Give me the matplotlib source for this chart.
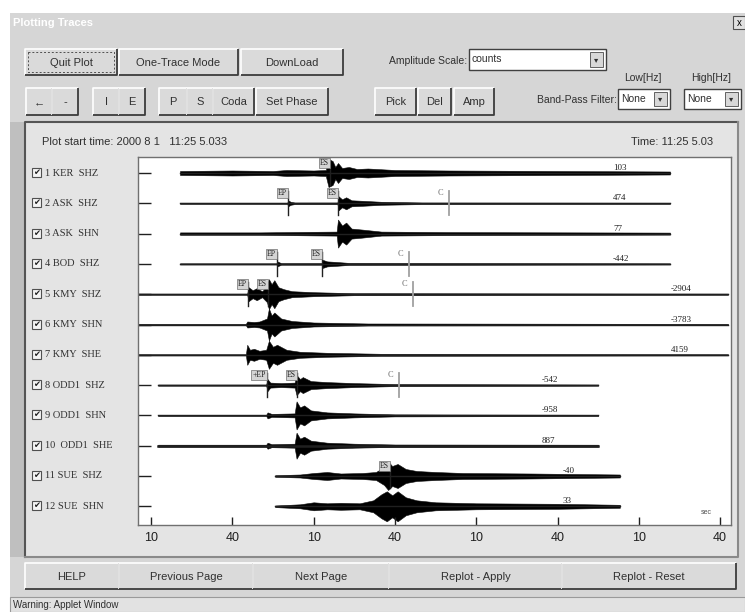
import numpy as np
import matplotlib.pyplot as plt
from matplotlib.patches import Rectangle
from matplotlib import transforms
from matplotlib.colors import LinearSegmentedColormap

# ---- values ----
station_labels = ["1 KER  SHZ", "2 ASK  SHZ", "3 ASK  SHN", "4 BOD  SHZ",
                  "5 KMY  SHZ", "6 KMY  SHN", "7 KMY  SHE", "8 ODD1  SHZ",
                  "9 ODD1  SHN", "10  ODD1  SHE", "11 SUE  SHZ", "12 SUE  SHN"]
amp_labels = ["103", "474", "77", "-442", "-2904", "-3783", "4159",
              "-542", "-958", "887", "-40", "33"]
trace_start = [20.7, 20.7, 20.7, 20.7, 5.2, 5.2, 5.2, 12.6, 12.6, 12.6, 55.8, 55.8]
trace_end = [201.5, 201.5, 201.5, 201.5, 222.9, 222.9, 222.9, 175.0, 175.0, 175.0, 183.0, 183.0]

# envelope knots (time in s, half amplitude) for every trace
env_ker_shz = [(20.7, 2), (40, 2.5), (55, 2), (60, 3), (70, 2.5), (74.5, 3), (75.5, 14), (77, 12),
               (78, 6), (79, 10), (80.5, 5), (83, 6), (86, 4), (90, 4.5), (100, 3), (120, 2.5),
               (160, 2), (201.5, 1.5)]
env_ask_shz = [(20.7, 0.6), (60.3, 0.6), (60.6, 3), (61.5, 1.5), (63, 0.8), (78.8, 0.8), (79.2, 7),
               (80.5, 4), (82, 6), (84, 3), (88, 2.5), (95, 1.5), (110, 0.8), (201.5, 0.6)]
env_ask_shn = [(20.7, 1.2), (50, 1.2), (70, 1.8), (78.5, 2), (79, 14), (80.5, 8), (82, 11), (84, 5),
               (88, 4), (95, 2), (120, 1.5), (201.5, 1)]
env_bod_shz = [(20.7, 0.6), (56.3, 0.6), (56.6, 2.5), (58, 0.8), (73, 0.8), (73.4, 4), (75, 2.5),
               (78, 2), (83, 1), (201.5, 0.6)]
env_kmy_shz = [(5.2, 0.6), (45.5, 0.6), (46, 7), (47.5, 4), (49, 6), (51, 3), (52.8, 8), (53.5, 15),
               (54.5, 10), (55.5, 14), (57, 7), (59, 5), (62, 3), (70, 2), (85, 1), (222.9, 0.6)]
env_kmy_shn = [(5.2, 0.6), (45, 0.6), (45.5, 3), (48, 2.5), (50, 3), (52.8, 6), (53.5, 16), (54.5, 9),
               (55.5, 12), (58, 6), (62, 3.5), (70, 2), (90, 1), (222.9, 0.6)]
env_kmy_she = [(5.2, 0.6), (45, 0.6), (45.5, 10), (46.5, 5), (48, 6), (50, 4), (52.5, 5), (53.5, 14),
               (55, 8), (56.5, 10), (60, 5), (65, 3), (75, 2), (95, 1), (222.9, 0.6)]
env_odd_shz = [(12.6, 0.6), (52.5, 0.6), (53, 6), (54, 2.5), (58, 2), (63, 2.5), (63.7, 10), (65, 6),
               (66, 8), (69, 4), (75, 3), (85, 2), (100, 1), (175, 0.6)]
env_odd_shn = [(12.6, 0.6), (52.5, 0.6), (53, 3), (54.5, 1.5), (63, 2), (63.7, 14), (65, 8), (66.5, 10),
               (69, 5), (75, 3), (85, 2), (100, 1), (175, 0.6)]
env_odd_she = [(12.6, 1.0), (52.5, 1.0), (53, 3), (54.5, 1.5), (63, 2), (63.7, 13), (65, 7), (66.5, 9),
               (69, 5), (75, 3), (85, 2), (100, 1.2), (175, 1.0)]
env_sue_shz = [(55.8, 0.8), (65, 1.5), (70, 3), (75, 4), (80, 2.5), (88, 3), (93, 4), (96, 9), (97.5, 14),
               (99, 10), (101, 12), (104, 7), (108, 5), (115, 4), (125, 3), (150, 2.5), (183, 1.5)]
env_sue_shn = [(55.8, 0.8), (65, 2), (70, 4), (75, 3), (80, 3.5), (87, 3), (92, 6), (95, 12), (97, 15),
               (99, 11), (101, 15), (104, 9), (108, 6), (115, 4), (130, 3), (160, 2.5), (183, 1.5)]
envelopes = [env_ker_shz, env_ask_shz, env_ask_shn, env_bod_shz, env_kmy_shz, env_kmy_shn,
             env_kmy_she, env_odd_shz, env_odd_shn, env_odd_she, env_sue_shz, env_sue_shn]

# phase picks
pick_trace = [0, 1, 1, 3, 3, 4, 4, 7, 7, 10]
pick_time = [76.1, 60.6, 79.0, 56.5, 73.1, 45.8, 53.2, 52.8, 63.9, 98.2]
pick_label = ["ES", "EP", "ES", "EP", "ES", "EP", "ES", "+EP", "ES", "ES"]
coda_trace = [1, 3, 4, 7]
coda_time = [120.0, 105.2, 106.7, 101.5]

tick_times = [10, 40, 70, 100, 130, 160, 190, 220]
tick_labels = ["10", "40", "10", "40", "10", "40", "10", "40"]

GUI = "Liberation Sans"
SERIF = "Liberation Serif"
TXT = "#303030"

fig = plt.figure(figsize=(7.45, 6.12), dpi=100)
fig.patch.set_facecolor("white")

# background axes in screen pixels
bg = fig.add_axes([0, 0, 1, 1])
bg.axis("off")

# window body
bg.add_patch(Rectangle((10, 13), 735, 599, facecolor="#d6d6d6", edgecolor="none"))
# title bar gradient
grey_cmap = LinearSegmentedColormap.from_list("tb", ["#080808", "#3a3a3a", "#9a9a9a", "#cfcfcf"])
bg.imshow(np.linspace(0, 1, 256)[None, :], extent=[10, 745, 33, 13], cmap=grey_cmap, aspect="auto")
bg.text(13, 23.5, "Plotting Traces", color="white", fontsize=8, fontweight="bold", family=GUI, va="center")
bg.add_patch(Rectangle((733, 16), 12, 13, facecolor="#e0e0e0", edgecolor="#505050", lw=0.8))
bg.text(739, 22.5, "x", fontsize=7, ha="center", va="center", color="black", family=GUI)


def button(x0, y0, x1, y1, label, fs=8, focus=False):
    bg.add_patch(Rectangle((x0, y0), x1 - x0, y1 - y0, facecolor="#dadada", edgecolor="none"))
    bg.plot([x0, x0, x1], [y1, y0, y0], color="white", lw=1.2, solid_capstyle="butt")
    bg.plot([x0, x1, x1], [y1, y1, y0], color="#3c3c3c", lw=1.3, solid_capstyle="butt")
    bg.text((x0 + x1) / 2, (y0 + y1) / 2 + 0.5, label, ha="center", va="center",
            fontsize=fs, family=GUI, color=TXT)
    if focus:
        bg.add_patch(Rectangle((x0 + 3, y0 + 3), x1 - x0 - 6, y1 - y0 - 6, fill=False,
                               edgecolor="#505050", lw=0.7, ls=(0, (2, 2))))


def combo(x0, y0, x1, y1, label):
    bg.add_patch(Rectangle((x0, y0), x1 - x0, y1 - y0, facecolor="white", edgecolor="#404040", lw=1))
    bg.add_patch(Rectangle((x1 - 16, y0 + 3), 13, y1 - y0 - 6, facecolor="#d8d8d8", edgecolor="#606060", lw=0.7))
    bg.text(x1 - 9.5, (y0 + y1) / 2, "\u25be", ha="center", va="center", fontsize=6, color=TXT, family="DejaVu Sans")
    bg.text(x0 + 3, (y0 + y1) / 2, label, ha="left", va="center", fontsize=7.5, family=GUI, color=TXT)


# top rows of controls
button(25, 49, 117, 75, "Quit Plot", focus=True)
button(119, 49, 238, 75, "One-Trace Mode")
button(241, 49, 343, 75, "DownLoad")
bg.text(467, 61, "Amplitude Scale:", ha="right", va="center", fontsize=7.5, family=GUI, color=TXT)
combo(469, 49, 606, 70, "counts")
bg.text(643, 78, "Low[Hz]", ha="center", va="center", fontsize=7.5, family=GUI, color=TXT)
bg.text(711, 78, "High[Hz]", ha="center", va="center", fontsize=7.5, family=GUI, color=TXT)

for lab, x0, x1 in [("\u2190", 26, 52), ("-", 52, 78), ("I", 93, 119), ("E", 119, 145),
                    ("P", 159, 187), ("S", 187, 213), ("Coda", 213, 254), ("Set Phase", 256, 328),
                    ("Pick", 375, 416), ("Del", 418, 451), ("Amp", 454, 494)]:
    button(x0, 88, x1, 115, lab)
bg.text(617, 100, "Band-Pass Filter:", ha="right", va="center", fontsize=7.5, family=GUI, color=TXT)
combo(618, 89, 670, 109, "None")
combo(684, 89, 741, 109, "None")

# plotting panel
bg.add_patch(Rectangle((10, 122), 15, 435, facecolor="#bfbfbf", edgecolor="none"))
bg.add_patch(Rectangle((25, 122), 713, 435, facecolor="#e4e4e4", edgecolor="none"))
bg.plot([25, 25, 738], [557, 122, 122], color="#555555", lw=1.5)
bg.plot([25, 738, 738], [557, 557, 122], color="#8a8a8a", lw=1.5)
bg.text(42, 142, "Plot start time: 2000 8 1   11:25 5.033", fontsize=8, family=GUI, color=TXT, va="center")
bg.text(713, 142, "Time: 11:25 5.03", fontsize=8, family=GUI, color=TXT, va="center", ha="right")

# bottom buttons and status bar
for lab, x0, x1 in [("HELP", 25, 119), ("Previous Page", 119, 253), ("Next Page", 253, 389),
                    ("Replot - Apply", 389, 562), ("Replot - Reset", 562, 736)]:
    button(x0, 563, x1, 589, lab)
bg.add_patch(Rectangle((10, 597), 735, 15, facecolor="#e2e2e2", edgecolor="#9a9a9a", lw=0.8))
bg.text(13, 605, "Warning: Applet Window", fontsize=7, family=GUI, color=TXT, va="center")

bg.set_xlim(0, 745)
bg.set_ylim(612, 0)

# ---- trace axes ----
ax = fig.add_axes([138 / 745, (612 - 525) / 612, (731 - 138) / 745, (525 - 157) / 612])
ax.set_facecolor("white")
spacing = 30.3
offsets = np.arange(len(station_labels)) * spacing
ax.set_xlim(5.2, 224)
ax.set_ylim(352, -16)

for i, env in enumerate(envelopes):
    t = np.array([p[0] for p in env])
    a = np.array([p[1] for p in env])
    off = offsets[i]
    lw = 1.8 if i == 9 else 1.0
    ax.plot([trace_start[i], trace_end[i]], [off, off], color="#202020", lw=lw)
    ax.fill_between(t, off - a, off + a, color="black", lw=0.4, edgecolor="#111111")
    ax.text(trace_end[i] - 21, off - 5, amp_labels[i], fontsize=6.5, family=SERIF,
            color="#202020", va="center", ha="left")

for tr, tm, lab in zip(pick_trace, pick_time, pick_label):
    off = offsets[tr]
    ax.plot([tm, tm], [off - 12, off + 12], color="#202020", lw=1)
    ax.text(tm - 0.5, off - 10, lab, fontsize=5.5, family=SERIF, ha="right", va="center", color="#202020",
            bbox=dict(boxstyle="square,pad=0.12", fc="#d4d4d4", ec="#707070", lw=0.5))

for tr, tm in zip(coda_trace, coda_time):
    off = offsets[tr]
    ax.plot([tm, tm], [off - 12, off + 12], color="#a0a0a0", lw=1.3)
    ax.text(tm - 2, off - 10, "C", fontsize=6, family=SERIF, ha="right", va="center", color="#707070")

ax.text(215, 339, "sec", fontsize=5, family=GUI, color="#505050", ha="center", va="center")

ax.set_xticks(tick_times, tick_labels)
ax.set_yticks(offsets, [])
ax.tick_params(axis="x", direction="in", length=6, width=1, pad=5, labelsize=9, colors="#202020")
ax.tick_params(axis="y", direction="in", length=9, width=1, colors="#202020")
for lab in ax.get_xticklabels():
    lab.set_family(GUI)
for sp in ax.spines.values():
    sp.set_color("#707070")
    sp.set_linewidth(1)

# station labels with check boxes
lbl = transforms.blended_transform_factory(bg.transData, ax.transData)
for i, name in enumerate(station_labels):
    off = offsets[i]
    ax.add_patch(Rectangle((32, off - 5), 9, 9, transform=lbl, clip_on=False,
                           facecolor="#f4f4f4", edgecolor="#505050", lw=0.8))
    ax.text(36.5, off - 0.5, "\u2714", transform=lbl, fontsize=6, ha="center", va="center",
            color="#202020", family="DejaVu Sans", clip_on=False)
    ax.text(45, off, name, transform=lbl, fontsize=7.5, family=SERIF, ha="left", va="center",
            color="#303030", clip_on=False)

fig.savefig("out.png", dpi=100)
